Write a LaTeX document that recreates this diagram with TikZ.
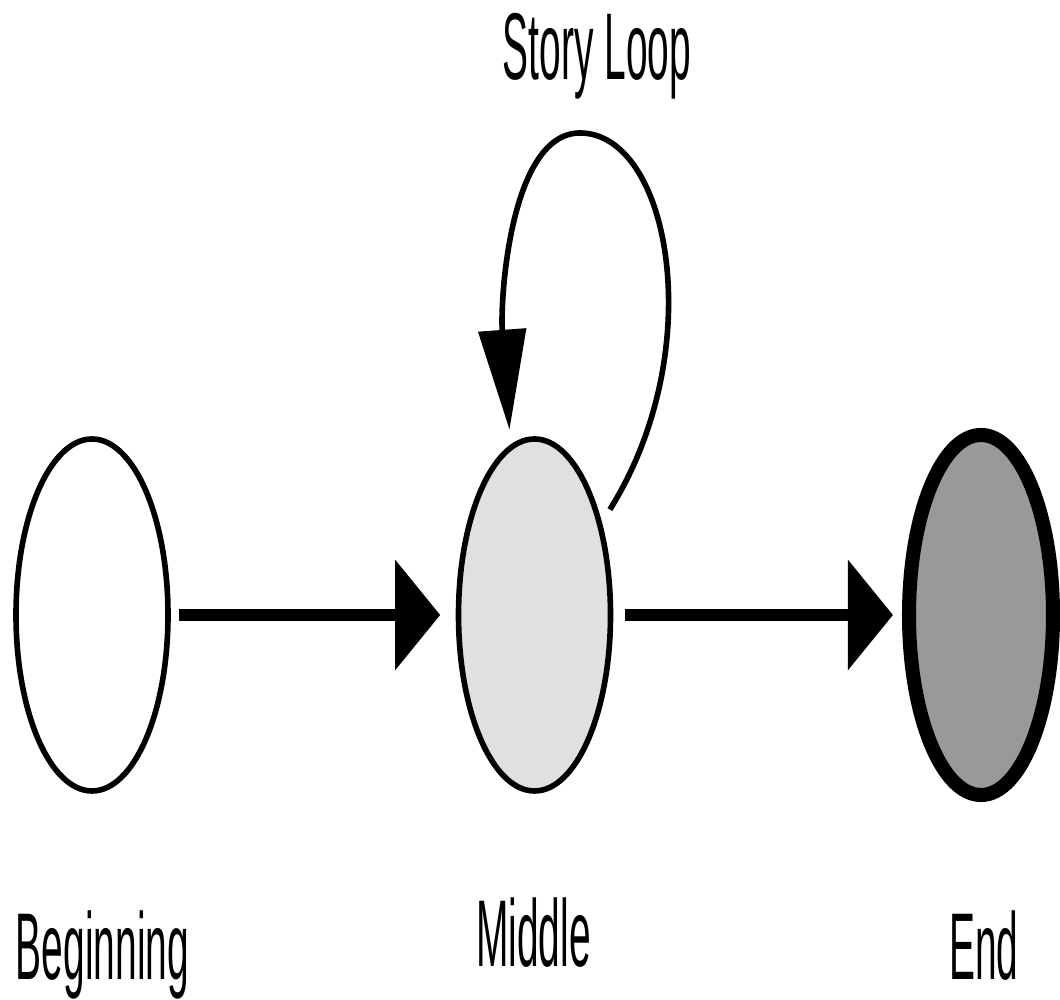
\documentclass[tikz,border=0pt]{standalone}
\usepackage{fontspec}
\newfontfamily\storyfont[FakeStretch=0.41]{Liberation Sans}
\usetikzlibrary{shapes,arrows.meta,positioning}

\begin{document}
\begin{tikzpicture}
    \useasboundingbox (0,0) rectangle (10.6,10);
    \tikzset{
        stage/.style={ellipse, draw, line width=1.6pt, inner sep=0pt, minimum width=1.52cm, minimum height=3.52cm},
        lbl/.style={font=\storyfont\fontsize{27}{30}\selectfont, anchor=base, inner sep=0pt},
        flow/.style={line width=3.4pt, -{Triangle[length=0.45cm, width=1.08cm]}},
    }
    \node[stage, fill=white] (start) at (0.92,3.85) {};
    \node[stage, fill=black!12] (middle) at (5.345,3.85) {};
    \node[stage, fill=black!40, line width=4pt, minimum width=1.44cm, minimum height=3.60cm] (finish) at (9.81,3.85) {};
    \draw[flow, shorten <=0.08cm, shorten >=0.155cm] (start) -- (middle);
    \draw[flow, shorten <=0.115cm, shorten >=0.09cm] (middle) -- (finish);
    % the loop back into the middle
    \draw[line width=1.6pt, -{Triangle[length=1.0cm, width=0.47cm]}, shorten <=0.15cm, shorten >=0.15cm]
        (middle.54) .. controls (7.1,6.5) and (6.7,8.67) .. (5.8,8.67)
        .. controls (5.1,8.67) and (5.0,7.0) .. (middle.98);
    \node[lbl] (looplbl) at (5.97,9.20) {Story Loop};
    \node[lbl] (startlbl) at (1.025,0.20) {Beginning};
    \node[lbl] (middlelbl) at (5.335,0.33) {Middle};
    \node[lbl] (finishlbl) at (9.84,0.20) {End};
\end{tikzpicture}
\end{document}
